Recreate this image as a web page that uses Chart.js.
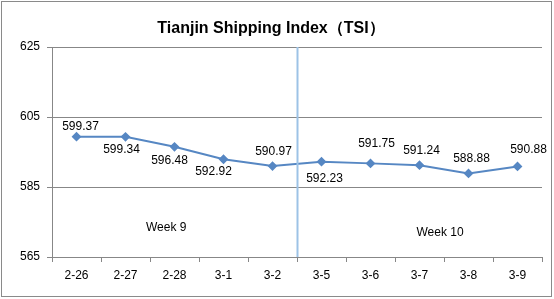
<!DOCTYPE html>
<html>
<head>
<meta charset="utf-8">
<script src="https://cdn.jsdelivr.net/npm/chart.js@4.4.1/dist/chart.umd.min.js"></script>
<style>
  html, body { margin: 0; padding: 0; background: #fff; }
  #wrap { width: 554px; height: 299px; position: relative; }
</style>
</head>
<body>
<div id="wrap"><canvas id="tsi" width="554" height="299"></canvas></div>
<script>
// Tianjin Shipping Index, daily values
const dates = ["2-26", "2-27", "2-28", "3-1", "3-2", "3-5", "3-6", "3-7", "3-8", "3-9"];
const tsiValues = [599.37, 599.34, 596.48, 592.92, 590.97, 592.23, 591.75, 591.24, 588.88, 590.88];
const yTicks = [565, 585, 605, 625];
const weekNames = ["Week 9", "Week 10"];

const lineBlue = "#5687C3";
const gridGray = "#878787";
const fontFamily = "'Liberation Sans', Arial, sans-serif";

// value labels, line between weeks, frame
const extras = {
  id: "extras",
  afterDatasetsDraw(chart, args, opts) {
    const ctx = chart.ctx;
    const x = chart.scales.x, y = chart.scales.y;
    const area = chart.chartArea;

    // divider between the two weeks
    const xd = Math.round(x.getPixelForValue(4.5)) + 0.5;
    ctx.save();
    ctx.strokeStyle = "#9DC3E6";
    ctx.lineWidth = 2;
    ctx.beginPath();
    ctx.moveTo(xd, area.top);
    ctx.lineTo(xd, area.bottom);
    ctx.stroke();

    ctx.fillStyle = "#000";
    ctx.font = "12px " + fontFamily;
    ctx.textAlign = "center";
    ctx.textBaseline = "middle";
    const meta = chart.getDatasetMeta(0);
    meta.data.forEach((pt, i) => {
      ctx.fillText(tsiValues[i].toFixed(2), pt.x + opts.dx[i], pt.y + opts.dy[i]);
    });

    opts.weeks.forEach((w, i) => {
      ctx.fillText(weekNames[i], x.getPixelForValue(w[0]), y.getPixelForValue(w[1]));
    });
    ctx.restore();
  },
  afterDraw(chart) {
    const ctx = chart.ctx;
    ctx.save();
    ctx.strokeStyle = "#8a8a8a";
    ctx.lineWidth = 1;
    ctx.strokeRect(1.5, 1.5, 550, 295);
    ctx.restore();
  }
};

new Chart(document.getElementById("tsi"), {
  type: "line",
  data: {
    labels: dates,
    datasets: [{
      data: tsiValues,
      borderColor: lineBlue,
      backgroundColor: lineBlue,
      borderWidth: 2,
      pointStyle: "rectRot",
      pointRadius: 3.5,
      pointHoverRadius: 3.5,
      tension: 0
    }]
  },
  options: {
    responsive: false,
    animation: false,
    events: [],
    layout: { padding: { left: 0, right: 12, top: 0, bottom: 0 } },
    plugins: {
      legend: { display: false },
      tooltip: { enabled: false },
      title: {
        display: true,
        text: "Tianjin Shipping Index（TSI）",
        color: "#000",
        font: { family: fontFamily, size: 16, weight: "bold" },
        padding: { top: 18.5, bottom: 9.3 }
      },
      extras: {
        dx: [4, -4, -5, -10, 1, 3, 6, 2, 3, 11],
        dy: [-10, 13, 14, 12, -14, 17, -20, -14, -15, -17],
        weeks: [[1.83, 573.3], [7.42, 571.9]]
      }
    },
    scales: {
      x: {
        offset: true,
        grid: { offset: true, drawOnChartArea: false, drawTicks: true, tickLength: 5, color: gridGray },
        border: { color: gridGray },
        ticks: { color: "#000", padding: 6, font: { family: fontFamily, size: 12 }, maxRotation: 0 },
        afterFit(scale) { scale.height = 42; }
      },
      y: {
        min: 565,
        max: 625,
        grid: { color: gridGray, tickLength: 5 },
        border: { color: gridGray },
        ticks: { color: "#000", padding: 7, font: { family: fontFamily, size: 12 } },
        afterBuildTicks(scale) { scale.ticks = yTicks.map(v => ({ value: v })); },
        afterFit(scale) { scale.width = 52; }
      }
    }
  },
  plugins: [extras]
});
</script>
</body>
</html>
